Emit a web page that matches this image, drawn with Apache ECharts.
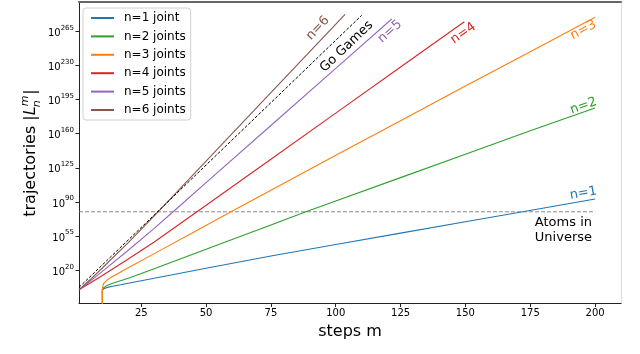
<!DOCTYPE html>
<html><head><meta charset="utf-8">
<script src="https://cdn.jsdelivr.net/npm/echarts@6/dist/echarts.min.js"></script>
<style>html,body{margin:0;padding:0;background:#fff}#c{width:640px;height:354px}</style>
</head><body><div id="c"></div>
<script>
// y values are base-10 exponents (the axis is logarithmic: label 10^k)
const ZERO = -1000; // log10 of a zero count, clipped below the axis

const n1Steps = [10, 10, 10.5, 11, 12, 14, 17, 20, 30, 50, 75, 100, 125, 150, 171, 200];
const n1Exp   = [ZERO, 0, 1.1, 1.7, 2.5, 3.7, 5.2, 6.8, 11.9, 22.2, 34.6, 46.4, 58.1, 69.8, 79.5, 93.1];

const n2Steps = [10, 10, 10.5, 11, 12, 14, 17, 20, 30, 50, 75, 88.5, 100, 125, 150, 175, 200];
const n2Exp   = [ZERO, 0, 2.2, 3.4, 4.8, 6.8, 9.3, 11.8, 21.6, 41.5, 66.5, 80, 91, 115, 139, 163, 186.3];

const n3Steps = [10, 10, 10.2, 10.5, 11, 12, 15, 20, 30, 45, 59.6, 75, 100, 125, 150, 175, 200];
const n3Exp   = [ZERO, 0, 4, 6.5, 8.5, 10.5, 15.2, 22.6, 37.1, 58.8, 80, 102.1, 137.9, 173.4, 208.8, 244.1, 279.3];

const n4Steps = [1, 5, 10, 20, 30, 46.5, 75, 100, 125, 149.6];
const n4Exp   = [0, 6.5, 14.7, 31.6, 49.1, 80, 133.9, 181.1, 228.4, 274.8];

const n5Steps = [1, 5, 10, 20, 30, 37.3, 50, 75, 100, 121.6];
const n5Exp   = [0, 8.3, 18.9, 40.6, 63.0, 80, 109.8, 168.4, 227.0, 277.6];

const n6Steps = [1, 5, 10, 20, 31.5, 50, 75, 103.6];
const n6Exp   = [0, 9.8, 22.4, 48.4, 80, 131.9, 202.1, 282.4];

const goSteps = [1, 25, 50, 75, 100, 110];
const goExp   = [2.56, 63.9, 127.9, 191.8, 255.8, 281.3];

const atomsSteps = [1, 200];
const atomsExp   = [80, 80];

const xTicks = [25, 50, 75, 100, 125, 150, 175, 200];
const yTicks = [20, 55, 90, 125, 160, 195, 230, 265];

const legendNames = ['n=1 joint', 'n=2 joints', 'n=3 joints', 'n=4 joints', 'n=5 joints', 'n=6 joints'];

const annoText  = ['n=6', 'Go Games', 'n=5', 'n=4', 'n=3', 'n=2', 'n=1', 'Atoms in\nUniverse'];
const annoStep  = [93.1, 104.2, 120.9, 149.2, 195.5, 195.5, 195.5, 187.8];
const annoExp   = [268.1, 249.2, 264.6, 262.9, 266.3, 188.4, 98.9, 61.3];
const annoAngle = [46.6, 43.9, 41.4, 35.4, 27.9, 19.8, 9.9, 0];

const FONT = '"DejaVu Sans", sans-serif';
const C = {n1:'#1f77b4', n2:'#2ca02c', n3:'#ff7f0e', n4:'#d62728', n5:'#9467bd', n6:'#8c564b'};
const annoColor = [C.n6, '#000', C.n5, C.n4, C.n3, C.n2, C.n1, '#000'];

function pairs(a, b) { return a.map((v, i) => [v, b[i]]); }
function lineSeries(name, steps, vals, color, extra) {
  return Object.assign({
    name, type: 'line', data: pairs(steps, vals), symbol: 'none', showSymbol: false,
    clip: true, animation: false, silent: true, legendIcon: 'rect',
    lineStyle: { width: 1.1, color }, itemStyle: { color }
  }, extra || {});
}

const chart = echarts.init(document.getElementById('c'), null, { renderer: 'canvas' });
chart.setOption({
  backgroundColor: '#fff',
  animation: false,
  grid: { left: 79, right: 19, top: 2, bottom: 50.5 },
  xAxis: [{
    type: 'value', min: 1, max: 210,
    name: 'steps m', nameLocation: 'middle', nameGap: 12,
    nameTextStyle: { fontSize: 16, fontFamily: FONT, color: '#000' },
    axisLine: { onZero: false, lineStyle: { color: '#222', width: 1 } },
    axisTick: { show: true, length: 3.5, inside: false, customValues: xTicks, lineStyle: { color: '#222' } },
    axisLabel: { customValues: xTicks, fontSize: 10, fontFamily: FONT, color: '#000', margin: 5 },
    splitLine: { show: false }
  }, {
    type: 'value', min: 1, max: 210, position: 'top',
    axisLine: { show: true, onZero: false, lineStyle: { color: '#666', width: 2 } },
    axisTick: { show: false }, axisLabel: { show: false }, splitLine: { show: false }
  }],
  yAxis: [{
    type: 'value', min: -14, max: 295,
    axisLine: { show: true, onZero: false, lineStyle: { color: '#222', width: 1 } },
    axisTick: { show: true, length: 3.5, customValues: yTicks, lineStyle: { color: '#222' } },
    axisLabel: {
      customValues: yTicks, margin: 5, fontFamily: FONT, color: '#000',
      formatter: v => '{a|10}{b|' + v + '}',
      rich: {
        a: { fontSize: 10, fontFamily: FONT, color: '#000', verticalAlign: 'bottom', lineHeight: 14 },
        b: { fontSize: 7, fontFamily: FONT, color: '#000', verticalAlign: 'top', lineHeight: 14 }
      }
    },
    splitLine: { show: false }
  }, {
    type: 'value', min: -14, max: 295, position: 'right',
    axisLine: { show: true, onZero: false, lineStyle: { color: '#dddddd', width: 1 } },
    axisTick: { show: false }, axisLabel: { show: false }, splitLine: { show: false }
  }],
  legend: {
    orient: 'vertical', left: 83, top: 8,
    itemWidth: 23, itemHeight: 1.6, itemGap: 6.4,
    padding: [4, 5, 4, 7],
    backgroundColor: '#fff', borderColor: '#d0d0d0', borderWidth: 1, borderRadius: 3,
    formatter: name => '{t|' + name + '}',
    textStyle: {
      fontSize: 12, fontFamily: FONT, color: '#000',
      rich: { t: { fontSize: 12, fontFamily: FONT, color: '#000', padding: [0, 0, 0, 5] } }
    },
    data: legendNames
  },
  series: [
    lineSeries('atoms', atomsSteps, atomsExp, '#888', { lineStyle: { width: 0.9, color: '#808080', type: [4, 2] } }),
    lineSeries(legendNames[0], n1Steps, n1Exp, C.n1),
    lineSeries(legendNames[1], n2Steps, n2Exp, C.n2),
    lineSeries(legendNames[2], n3Steps, n3Exp, C.n3),
    lineSeries(legendNames[3], n4Steps, n4Exp, C.n4),
    lineSeries(legendNames[4], n5Steps, n5Exp, C.n5),
    lineSeries(legendNames[5], n6Steps, n6Exp, C.n6),
    lineSeries('Go', goSteps, goExp, '#000', { lineStyle: { width: 1, color: '#000', type: [3, 1.7] } })
  ]
});

// annotations placed through the axis scales
const graphics = [];
annoText.forEach((t, i) => {
  const p = chart.convertToPixel({ gridIndex: 0 }, [annoStep[i], annoExp[i]]);
  graphics.push({
    type: 'text', x: p[0], y: p[1], rotation: annoAngle[i] * Math.PI / 180, silent: true,
    style: { text: t, fill: annoColor[i], font: '13px ' + FONT, textAlign: 'center', textVerticalAlign: 'middle', lineHeight: 15 }
  });
});

// y axis title: trajectories |L_n^m|
const cv = document.createElement('canvas').getContext('2d');
function w(txt, f) { cv.font = f; return cv.measureText(txt).width; }
const F16 = '16px ' + FONT, F16I = 'italic 16px ' + FONT, F11I = 'italic 11px ' + FONT;
const w1 = w('trajectories |', F16), wL = w('L', F16I), wS = Math.max(w('m', F11I), w('n', F11I)) + 1, wB = w('|', F16);
const total = w1 + wL + wS + wB;
let x0 = -total / 2;
const kids = [
  { type: 'text', x: x0, y: 0, style: { text: 'trajectories |', font: F16, fill: '#000', textAlign: 'left', textVerticalAlign: 'middle' } },
  { type: 'text', x: x0 + w1, y: 0, style: { text: 'L', font: F16I, fill: '#000', textAlign: 'left', textVerticalAlign: 'middle' } },
  { type: 'text', x: x0 + w1 + wL, y: -6, style: { text: 'm', font: F11I, fill: '#000', textAlign: 'left', textVerticalAlign: 'middle' } },
  { type: 'text', x: x0 + w1 + wL - 1, y: 6, style: { text: 'n', font: F11I, fill: '#000', textAlign: 'left', textVerticalAlign: 'middle' } },
  { type: 'text', x: x0 + w1 + wL + wS, y: 0, style: { text: '|', font: F16, fill: '#000', textAlign: 'left', textVerticalAlign: 'middle' } }
];
graphics.push({ type: 'group', x: 31, y: 153, rotation: Math.PI / 2, silent: true, children: kids });

chart.setOption({ graphic: graphics });
</script></body></html>
